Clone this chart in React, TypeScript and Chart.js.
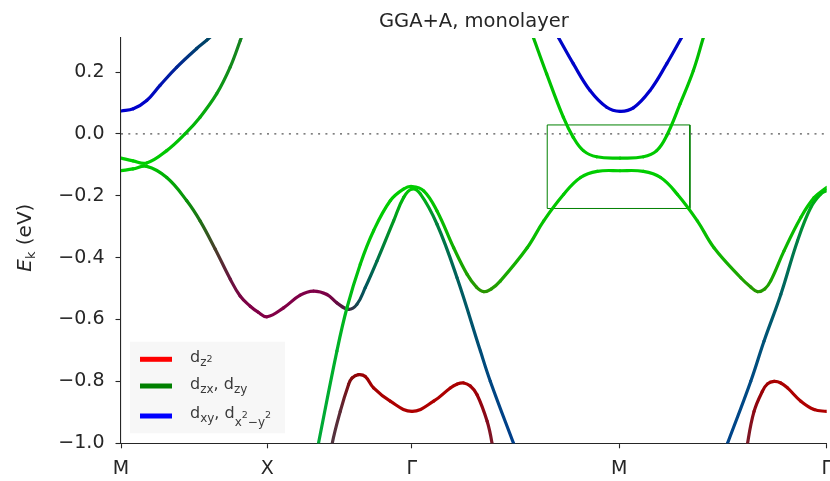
import { useEffect, useRef } from "react";
import { Chart, registerables } from "chart.js";

Chart.register(...registerables);

const FONT = "'DejaVu Sans', sans-serif";

// high-symmetry path M–X–Γ–M–Γ (k in units of π/a)
const kPath = [0, 1.0, 1.989, 3.409, 4.828];
const kLabels = ["M", "X", "Γ", "M", "Γ"];
const eTicks = [-1.0, -0.8, -0.6, -0.4, -0.2, 0.0, 0.2];
const eMin = -1.0;
const eMax = 0.31;
const titleText = "GGA+A, monolayer";

// highlighted window around the gap at M
const boxK = [2.916, 3.892];
const boxE = [-0.241, 0.029];

// Bands: k, energy (eV), and orbital weights per point [dz2, dzx+dzy, dxy+dx2-y2]
const blueLeftK = [0, 0.084, 0.176, 0.267, 0.382, 0.518, 0.587, 0.733];
const blueLeftE = [0.074, 0.081, 0.108, 0.157, 0.216, 0.276, 0.303, 0.367];
const blueLeftW = [
  [0, 0, 1], [0, 0, 1], [0, 0.02, 0.97], [0, 0.08, 0.88], [0, 0.18, 0.72],
  [0, 0.3, 0.55], [0, 0.33, 0.5], [0, 0.4, 0.42],
];

const blueMidK = [2.927, 2.991, 3.094, 3.209, 3.323, 3.414, 3.505, 3.619, 3.734, 3.837, 3.901];
const blueMidE = [0.367, 0.313, 0.227, 0.14, 0.086, 0.073, 0.084, 0.14, 0.227, 0.313, 0.367];
const blueMidW = [
  [0, 0.05, 0.95], [0, 0.04, 0.96], [0, 0.02, 0.98], [0, 0, 1], [0, 0, 1], [0, 0, 1],
  [0, 0, 1], [0, 0, 1], [0, 0.02, 0.98], [0, 0.04, 0.96], [0, 0.05, 0.95],
];

const greenUpLeftK = [0, 0.082, 0.176, 0.313, 0.438, 0.541, 0.655, 0.747, 0.816, 0.866];
const greenUpLeftE = [-0.078, -0.087, -0.094, -0.054, 0.0, 0.054, 0.13, 0.216, 0.302, 0.367];
const greenUpLeftW = [
  [0, 1, 0], [0, 1, 0], [0, 1, 0], [0, 0.97, 0], [0, 0.93, 0.02],
  [0.03, 0.85, 0.05], [0.06, 0.76, 0.1], [0.09, 0.68, 0.13], [0.1, 0.64, 0.15], [0.1, 0.62, 0.16],
];

const greenUpMidK = [2.778, 2.82, 2.912, 3.026, 3.094, 3.163, 3.254, 3.414, 3.574, 3.665, 3.734, 3.825, 3.916, 3.985, 4.019];
const greenUpMidE = [0.367, 0.313, 0.194, 0.054, -0.011, -0.054, -0.074, -0.078, -0.074, -0.054, -0.005, 0.097, 0.205, 0.313, 0.367];
const greenUpMidW = [
  [0, 0.88, 0], [0, 0.9, 0], [0, 0.94, 0], [0, 0.97, 0], [0, 0.98, 0], [0, 0.98, 0], [0, 0.98, 0], [0, 0.98, 0],
  [0, 0.98, 0], [0, 0.98, 0], [0, 0.98, 0], [0, 0.97, 0], [0, 0.94, 0], [0, 0.9, 0], [0, 0.88, 0],
];

const lowerK = [
  0, 0.082, 0.176, 0.313, 0.45, 0.541, 0.644, 0.747, 0.815, 0.884, 0.938, 1.0, 1.112, 1.226, 1.317, 1.409,
  1.477, 1.556, 1.614, 1.671, 1.751, 1.865, 1.934, 1.991, 2.048, 2.162, 2.299, 2.459, 2.527, 2.687, 2.733,
];
const lowerE = [
  -0.119, -0.113, -0.105, -0.141, -0.216, -0.281, -0.372, -0.469, -0.524, -0.557, -0.576, -0.591, -0.562, -0.521, -0.508, -0.519,
  -0.546, -0.567, -0.551, -0.497, -0.411, -0.281, -0.205, -0.178, -0.194, -0.292, -0.465, -0.702, -0.8, -1.002, -1.059,
];
const lowerW = [
  [0, 1, 0], [0, 1, 0], [0, 0.97, 0], [0, 0.85, 0.03], [0.05, 0.7, 0.05], [0.15, 0.55, 0.1], [0.35, 0.3, 0.2], [0.5, 0.1, 0.3],
  [0.58, 0.03, 0.33], [0.62, 0, 0.34], [0.63, 0, 0.34], [0.64, 0, 0.34], [0.63, 0, 0.34], [0.62, 0, 0.35], [0.62, 0, 0.35], [0.6, 0, 0.34],
  [0.5, 0.05, 0.32], [0.3, 0.2, 0.32], [0.1, 0.35, 0.4], [0, 0.42, 0.45], [0, 0.55, 0.35], [0, 0.75, 0.15], [0, 0.9, 0.05], [0, 1, 0],
  [0, 0.9, 0.08], [0, 0.62, 0.3], [0, 0.47, 0.45], [0, 0.37, 0.58], [0, 0.34, 0.63], [0, 0.3, 0.68], [0, 0.3, 0.68],
];

const greenMainK = [
  1.327, 1.349, 1.477, 1.546, 1.637, 1.728, 1.842, 1.934, 1.991, 2.071, 2.162, 2.276, 2.368, 2.432, 2.482, 2.534, 2.596, 2.779, 2.892,
  3.029, 3.144, 3.258, 3.414, 3.574, 3.692, 3.806, 3.943, 4.057, 4.24, 4.308, 4.354, 4.404, 4.445, 4.536, 4.651, 4.742, 4.828,
];
const greenMainE = [
  -1.059, -1.005, -0.702, -0.562, -0.421, -0.313, -0.216, -0.178, -0.17, -0.184, -0.249, -0.368, -0.454, -0.495, -0.51, -0.501, -0.475, -0.368, -0.281,
  -0.195, -0.141, -0.121, -0.119, -0.121, -0.141, -0.195, -0.281, -0.368, -0.465, -0.495, -0.51, -0.501, -0.475, -0.378, -0.27, -0.206, -0.173,
];
const greenMainW = [
  [0, 0.82, 0.28], [0, 0.82, 0.28], [0, 0.86, 0.2], [0, 0.9, 0.12], [0, 0.95, 0.05], [0, 0.98, 0.02], [0, 1, 0], [0, 1, 0], [0, 1, 0],
  [0, 0.98, 0], [0.03, 0.93, 0], [0.08, 0.85, 0], [0.14, 0.78, 0], [0.18, 0.74, 0], [0.2, 0.72, 0], [0.18, 0.75, 0], [0.14, 0.8, 0],
  [0.06, 0.9, 0], [0.02, 0.95, 0], [0, 0.98, 0], [0, 1, 0], [0, 1, 0], [0, 1, 0], [0, 1, 0], [0, 1, 0], [0, 0.98, 0], [0.02, 0.95, 0],
  [0.06, 0.9, 0], [0.14, 0.8, 0], [0.17, 0.76, 0], [0.18, 0.74, 0], [0.16, 0.76, 0], [0.12, 0.8, 0], [0.06, 0.88, 0], [0.02, 0.94, 0],
  [0, 0.97, 0], [0, 0.98, 0],
];

const tealRightK = [4.103, 4.148, 4.308, 4.399, 4.514, 4.628, 4.719, 4.788, 4.828];
const tealRightE = [-1.059, -1.002, -0.8, -0.67, -0.519, -0.346, -0.238, -0.194, -0.183];
const tealRightW = [
  [0, 0.33, 0.68], [0, 0.33, 0.68], [0, 0.36, 0.64], [0, 0.4, 0.58], [0, 0.48, 0.48],
  [0, 0.62, 0.33], [0, 0.8, 0.15], [0, 0.9, 0.06], [0, 0.95, 0.02],
];

const redLeftK = [1.432, 1.443, 1.5, 1.557, 1.58, 1.625, 1.671, 1.728, 1.842, 1.991, 2.139, 2.253, 2.298, 2.345, 2.39, 2.436, 2.505, 2.539, 2.551];
const redLeftE = [-1.059, -1.005, -0.897, -0.81, -0.789, -0.778, -0.784, -0.821, -0.864, -0.897, -0.864, -0.821, -0.809, -0.805, -0.815, -0.843, -0.929, -1.002, -1.059];
const redLeftW = [
  [0.4, 0.27, 0.32], [0.4, 0.27, 0.32], [0.45, 0.2, 0.26], [0.6, 0.08, 0.1], [0.66, 0.04, 0.05], [0.72, 0, 0.02], [0.76, 0, 0.01],
  [0.8, 0, 0], [0.84, 0, 0], [0.85, 0, 0], [0.85, 0, 0], [0.84, 0, 0], [0.83, 0, 0], [0.82, 0, 0], [0.8, 0, 0.02],
  [0.76, 0, 0.04], [0.65, 0.06, 0.14], [0.6, 0.12, 0.2], [0.6, 0.12, 0.2],
];

const redRightK = [4.274, 4.286, 4.331, 4.388, 4.423, 4.468, 4.514, 4.56, 4.651, 4.742, 4.828];
const redRightE = [-1.059, -1.002, -0.897, -0.832, -0.808, -0.8, -0.805, -0.821, -0.864, -0.891, -0.897];
const redRightW = [
  [0.6, 0.13, 0.2], [0.6, 0.13, 0.2], [0.68, 0.05, 0.1], [0.75, 0, 0.03], [0.79, 0, 0.01], [0.82, 0, 0],
  [0.83, 0, 0], [0.84, 0, 0], [0.85, 0, 0], [0.85, 0, 0], [0.85, 0, 0],
];

const bands = [
  { k: redLeftK, e: redLeftE, w: redLeftW },
  { k: redRightK, e: redRightE, w: redRightW },
  { k: tealRightK, e: tealRightE, w: tealRightW },
  { k: greenMainK, e: greenMainE, w: greenMainW },
  { k: lowerK, e: lowerE, w: lowerW },
  { k: greenUpLeftK, e: greenUpLeftE, w: greenUpLeftW },
  { k: greenUpMidK, e: greenUpMidE, w: greenUpMidW },
  { k: blueLeftK, e: blueLeftE, w: blueLeftW },
  { k: blueMidK, e: blueMidE, w: blueMidW },
];

// legend: [text, style] runs; 0 = main, 1 = subscript, 2 = raised index, 3 = lowered subscript
const legendEntries: { color: string; runs: [string, number][] }[] = [
  { color: "#ff0000", runs: [["d", 0], ["z", 1], ["2", 2]] },
  { color: "#008000", runs: [["d", 0], ["zx", 1], [", d", 0], ["zy", 1]] },
  { color: "#0000ff", runs: [["d", 0], ["xy", 1], [", d", 0], ["x", 3], ["2", 2], ["−y", 3], ["2", 2]] },
];

function mix(w: number[]) {
  const c = (v: number) => Math.max(0, Math.min(255, Math.round(v * 205)));
  return `rgb(${c(w[0])},${c(w[1])},${c(w[2])})`;
}

const runStyles = [
  { size: 16, dy: 0 },
  { size: 12, dy: 4 },
  { size: 9.5, dy: 0 },
  { size: 12, dy: 7.5 },
];

const overlay = {
  id: "overlay",
  afterDraw(chart: any) {
    const ctx: CanvasRenderingContext2D = chart.ctx;
    const a = chart.chartArea;
    ctx.save();

    // title
    ctx.fillStyle = "#262626";
    ctx.font = `19.5px ${FONT}`;
    ctx.textAlign = "center";
    ctx.textBaseline = "alphabetic";
    ctx.fillText(titleText, (a.left + a.right) / 2, 26.5);

    // y-axis label: E_k (eV)
    ctx.save();
    ctx.translate(30.5, (a.top + a.bottom) / 2 - 3);
    ctx.rotate(-Math.PI / 2);
    ctx.textAlign = "left";
    const fE = `italic 20px ${FONT}`;
    const fK = `13px ${FONT}`;
    const fU = `20px ${FONT}`;
    ctx.font = fE;
    const wE = ctx.measureText("E").width;
    ctx.font = fK;
    const wK = ctx.measureText("k").width;
    ctx.font = fU;
    const wU = ctx.measureText(" (eV)").width;
    let x0 = -(wE + wK + wU) / 2;
    ctx.font = fE;
    ctx.fillText("E", x0, 0);
    x0 += wE;
    ctx.font = fK;
    ctx.fillText("k", x0, 4);
    x0 += wK;
    ctx.font = fU;
    ctx.fillText(" (eV)", x0, 0);
    ctx.restore();

    // legend
    ctx.fillStyle = "#f7f7f7";
    ctx.fillRect(130, 341.7, 155, 91.6);
    const lineY = [359.3, 386, 416];
    const baseY = [361.7, 389.3, 418.3];
    legendEntries.forEach((it, i) => {
      ctx.strokeStyle = it.color;
      ctx.lineWidth = 5;
      ctx.lineCap = "butt";
      ctx.beginPath();
      ctx.moveTo(140, lineY[i]);
      ctx.lineTo(172, lineY[i]);
      ctx.stroke();
      let x = 190;
      ctx.fillStyle = "#3a3a3a";
      ctx.textAlign = "left";
      for (const [t, s] of it.runs) {
        const st = runStyles[s];
        ctx.font = `${st.size}px ${FONT}`;
        ctx.fillText(t, x, baseY[i] + st.dy);
        x += ctx.measureText(t).width;
      }
    });
    ctx.restore();
  },
};

export default function App() {
  const ref = useRef<HTMLCanvasElement>(null);

  useEffect(() => {
    document.body.style.margin = "0";
    const canvas = ref.current!;
    const g2d = canvas.getContext("2d")!;

    const bandSets = bands.map((b) => {
      const cols = b.w.map(mix);
      return {
        data: b.k.map((x, i) => ({ x, y: b.e[i] })),
        borderWidth: 3.2,
        borderColor: cols[0],
        borderCapStyle: "round",
        borderJoinStyle: "round",
        tension: 0.4,
        capBezierPoints: false,
        pointRadius: 0,
        pointHoverRadius: 0,
        clip: 0,
        segment: {
          borderColor: (s: any) => {
            const g = g2d.createLinearGradient(s.p0.x, s.p0.y, s.p1.x, s.p1.y);
            g.addColorStop(0, cols[s.p0DataIndex]);
            g.addColorStop(1, cols[s.p1DataIndex]);
            return g;
          },
        },
      };
    });

    const fermi = {
      data: [
        { x: kPath[0], y: 0 },
        { x: kPath[kPath.length - 1], y: 0 },
      ],
      borderColor: "#555555",
      borderWidth: 1.3,
      borderDash: [2, 5.3],
      pointRadius: 0,
      clip: 0,
    };

    const box = {
      data: [
        { x: boxK[0], y: boxE[1] },
        { x: boxK[1], y: boxE[1] },
        { x: boxK[1], y: boxE[0] },
        { x: boxK[0], y: boxE[0] },
        { x: boxK[0], y: boxE[1] },
      ],
      borderColor: "#008000",
      borderWidth: 1,
      pointRadius: 0,
      tension: 0,
      clip: 0,
    };

    const chart = new Chart(canvas, {
      type: "line",
      data: { datasets: [fermi, ...bandSets, box] as any },
      options: {
        animation: false,
        responsive: false,
        devicePixelRatio: 1,
        events: [],
        layout: { padding: { top: 38, right: 3.3, left: 0, bottom: 0 } },
        plugins: { legend: { display: false }, tooltip: { enabled: false }, title: { display: false } },
        scales: {
          x: {
            type: "linear",
            min: kPath[0],
            max: kPath[kPath.length - 1],
            afterBuildTicks: (s: any) => {
              s.ticks = kPath.map((v) => ({ value: v }));
            },
            afterFit: (s: any) => {
              s.height = 481 - 443.3;
              s.paddingLeft = 0;
              s.paddingRight = 0;
            },
            ticks: {
              autoSkip: false,
              maxRotation: 0,
              padding: 9,
              color: "#262626",
              font: { family: FONT, size: 19 },
              callback: (_v: any, i: number) => kLabels[i],
            },
            grid: { display: true, drawOnChartArea: false, drawTicks: true, tickLength: 5, tickWidth: 1.1, tickColor: "#262626" },
            border: { display: true, color: "#262626", width: 1.1 },
          },
          y: {
            type: "linear",
            min: eMin,
            max: eMax,
            afterBuildTicks: (s: any) => {
              s.ticks = eTicks.map((v) => ({ value: v }));
            },
            afterFit: (s: any) => {
              s.width = 121;
              s.paddingTop = 0;
              s.paddingBottom = 0;
            },
            ticks: {
              autoSkip: false,
              padding: 11,
              color: "#262626",
              font: { family: FONT, size: 19 },
              callback: (v: any) => (v < -1e-9 ? "−" : "") + Math.abs(v).toFixed(1),
            },
            grid: { display: true, drawOnChartArea: false, drawTicks: true, tickLength: 5.5, tickWidth: 1.1, tickColor: "#262626" },
            border: { display: true, color: "#262626", width: 1.1 },
          },
        },
      },
      plugins: [overlay],
    } as any);

    return () => chart.destroy();
  }, []);

  return (
    <div style={{ width: 830, height: 481 }}>
      <canvas ref={ref} width={830} height={481} style={{ display: "block" }} />
    </div>
  );
}
